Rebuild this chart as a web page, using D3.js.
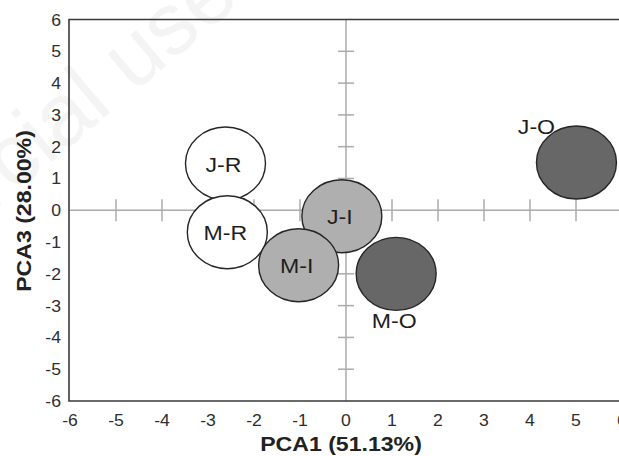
<!DOCTYPE html>
<html>
<head>
<meta charset="utf-8">
<script src="https://cdn.jsdelivr.net/npm/d3@7"></script>
<style>
  body { margin: 0; background: #fff; }
  svg { display: block; font-family: "Liberation Sans", Arial, sans-serif; }
</style>
</head>
<body>
<svg width="619" height="456"></svg>
<script>
const width = 619;
const height = 456;

// samples and their scores
const groups = ["J-R", "M-R", "J-I", "M-I", "J-O", "M-O"];
const pca1 = [-2.62, -2.58, -0.09, -1.03, 5.01, 1.09];
const pca3 = [1.47, -0.69, -0.19, -1.73, 1.50, -2.00];
const kinds = ["R", "R", "I", "I", "O", "O"];

const xTicks = [-6, -5, -4, -3, -2, -1, 0, 1, 2, 3, 4, 5, 6];
const yTicks = [-6, -5, -4, -3, -2, -1, 0, 1, 2, 3, 4, 5, 6];

const fills = {R: "#ffffff", I: "#afafaf", O: "#676767"};

const stretch = 1.1; // the picture is a bit wider than tall

const svg = d3.select("svg");

const x = d3.scaleLinear().domain([-6, 6]).range([70, 622]);
const y = d3.scaleLinear().domain([-6, 6]).range([401, 19.5]);

function stretchedText(g, tx, ty, str) {
    return g.append("text")
        .attr("transform", `translate(${tx},${ty}) scale(${stretch},1)`)
        .text(str);
}

// faint watermark of the source image
svg.append("text")
    .attr("transform", "translate(242,2) rotate(-40)")
    .attr("text-anchor", "end")
    .attr("font-size", "88px")
    .attr("fill", "#f4f4f4")
    .text("commercial use");

// zero lines with cross ticks
const zero = svg.append("g")
    .attr("stroke", "#ababab")
    .attr("stroke-width", 1.5);

zero.append("line")
    .attr("x1", x(-6)).attr("x2", x(6))
    .attr("y1", y(0)).attr("y2", y(0));
zero.append("line")
    .attr("x1", x(0)).attr("x2", x(0))
    .attr("y1", y(6)).attr("y2", y(-6));

zero.selectAll(".xt")
    .data(xTicks.filter(d => d !== 0 && Math.abs(d) !== 6))
    .join("line")
    .attr("class", "xt")
    .attr("x1", d => x(d)).attr("x2", d => x(d))
    .attr("y1", y(0) - 11).attr("y2", y(0) + 11);

zero.selectAll(".yt")
    .data(yTicks.filter(d => d !== 0 && Math.abs(d) !== 6))
    .join("line")
    .attr("class", "yt")
    .attr("y1", d => y(d)).attr("y2", d => y(d))
    .attr("x1", x(0) - 8).attr("x2", x(0) + 8);

// frame (left, top, bottom)
svg.append("path")
    .attr("d", `M${width + 5},${y(6)} H${x(-6) - 1} V${y(-6)} H${width + 5}`)
    .attr("fill", "none")
    .attr("stroke", "#3a3a3a")
    .attr("stroke-width", 1.6);

// tick labels
const tickLabels = svg.append("g")
    .attr("font-size", "16px")
    .attr("fill", "#2e2e2e");

xTicks.forEach(d => {
    stretchedText(tickLabels, x(d), 426, d)
        .attr("text-anchor", "middle");
});
yTicks.forEach(d => {
    stretchedText(tickLabels, 61, y(d) + 6, d)
        .attr("text-anchor", "end");
});

// axis titles
stretchedText(svg, 341, 451, "PCA1 (51.13%)")
    .attr("text-anchor", "middle")
    .attr("font-size", "21px")
    .attr("font-weight", "bold")
    .attr("fill", "#222");

svg.append("text")
    .attr("transform", `translate(31,211) rotate(-90) scale(${stretch},1)`)
    .attr("text-anchor", "middle")
    .attr("font-size", "21px")
    .attr("font-weight", "bold")
    .attr("fill", "#222")
    .text("PCA3 (28.00%)");

// bubbles
const points = groups.map((g, i) => ({name: g, pc1: pca1[i], pc3: pca3[i], kind: kinds[i]}));

svg.append("g")
    .selectAll("ellipse")
    .data(points)
    .join("ellipse")
    .attr("cx", d => x(d.pc1))
    .attr("cy", d => y(d.pc3))
    .attr("rx", 40)
    .attr("ry", 36.5)
    .attr("fill", d => fills[d.kind])
    .attr("stroke", "#262626")
    .attr("stroke-width", 1.4);

// labels: inside for most, outside for the O samples
const labelOffset = {
    "J-O": [-40, -36],
    "M-O": [-2, 47]
};

const labels = svg.append("g")
    .attr("font-size", "21px")
    .attr("fill", "#1e1e1e");

points.forEach(d => {
    const off = labelOffset[d.name] || [-2, 1];
    stretchedText(labels, x(d.pc1) + off[0], y(d.pc3) + off[1], d.name)
        .attr("text-anchor", "middle")
        .attr("dominant-baseline", "central");
});
</script>
</body>
</html>
